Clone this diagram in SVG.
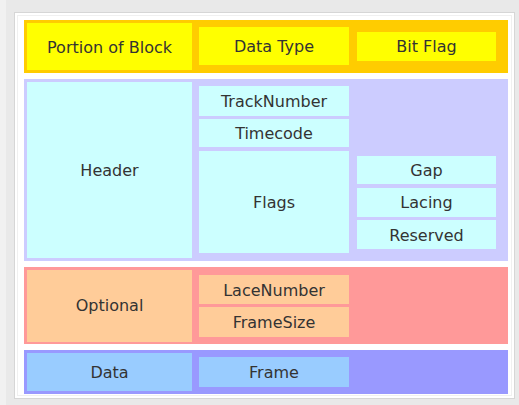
<svg xmlns="http://www.w3.org/2000/svg" width="519" height="405" viewBox="0 0 519 405">
<style>
text{font-family:"DejaVu Sans","Liberation Sans",sans-serif;font-size:16px;fill:#333;text-anchor:middle}
.yb{fill:#ffcc00}.y{fill:#ffff00}
.lb{fill:#ccccff}.c{fill:#ccffff}
.pb{fill:#ff9999}.p{fill:#ffcc99}
.bb{fill:#9999ff}.b{fill:#99ccff}
</style>
<rect width="519" height="405" fill="#e9e9e9"/>
<rect x="0" y="0" width="6" height="405" fill="#f1f1f1"/>
<rect x="14.5" y="12.5" width="500" height="386" fill="#ffffff" stroke="#d6d6d6"/>
<rect x="17.5" y="15.5" width="494" height="380" fill="none" stroke="#f0f0f0"/>
<g id="band-top">
<rect class="yb" x="24" y="20" width="484" height="53"/>
</g>
<g id="portion-of-block"><rect class="y" x="27" y="23" width="165" height="47"/><text x="109.5" y="52.5">Portion of Block</text></g>
<g id="data-type"><rect class="y" x="199" y="27" width="150" height="38"/><text x="274" y="52">Data Type</text></g>
<g id="bit-flag"><rect class="y" x="357" y="32" width="139" height="29"/><text x="426.5" y="52">Bit Flag</text></g>
<g id="band-header">
<rect class="lb" x="24" y="79" width="484" height="182"/>
</g>
<g id="header"><rect class="c" x="27" y="82" width="165" height="176"/><text x="109.5" y="176">Header</text></g>
<g id="tracknumber"><rect class="c" x="199" y="86" width="150" height="30"/><text x="274" y="107">TrackNumber</text></g>
<g id="timecode"><rect class="c" x="199" y="119" width="150" height="28"/><text x="274" y="139">Timecode</text></g>
<g id="flags"><rect class="c" x="199" y="151" width="150" height="102"/><text x="274" y="208">Flags</text></g>
<g id="gap"><rect class="c" x="357" y="156" width="139" height="28"/><text x="426.5" y="176">Gap</text></g>
<g id="lacing"><rect class="c" x="357" y="188" width="139" height="29"/><text x="426.5" y="208">Lacing</text></g>
<g id="reserved"><rect class="c" x="357" y="220" width="139" height="29"/><text x="426.5" y="241">Reserved</text></g>
<g id="band-optional">
<rect class="pb" x="24" y="267" width="484" height="77"/>
</g>
<g id="optional"><rect class="p" x="27" y="270" width="165" height="72"/><text x="109.5" y="311">Optional</text></g>
<g id="lacenumber"><rect class="p" x="199" y="275" width="150" height="29"/><text x="274" y="295.5">LaceNumber</text></g>
<g id="framesize"><rect class="p" x="199" y="307" width="150" height="30"/><text x="274" y="328">FrameSize</text></g>
<g id="band-data">
<rect class="bb" x="24" y="350" width="484" height="44"/>
</g>
<g id="data"><rect class="b" x="27" y="353" width="165" height="38"/><text x="109.5" y="378">Data</text></g>
<g id="frame"><rect class="b" x="199" y="357" width="150" height="30"/><text x="274" y="378">Frame</text></g>
<g id="connectors"></g>
</svg>
